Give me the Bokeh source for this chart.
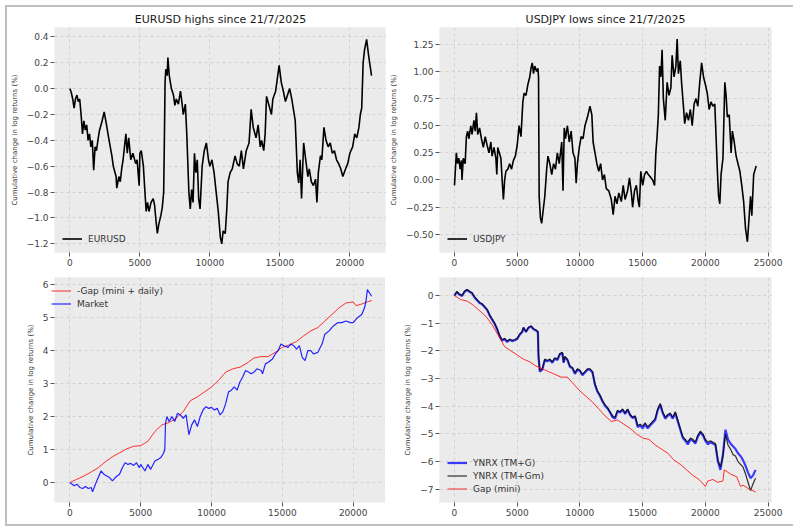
from bokeh.plotting import figure
from bokeh.models import Range1d, FixedTicker, CustomJSTickFormatter
from bokeh.layouts import gridplot, column
from bokeh.embed import file_html
from bokeh.resources import INLINE

# EURUSD highs (top left)
eur_x = [0, 100, 200, 300, 400, 500, 600, 700, 800, 900, 1000, 1100, 1200, 1300, 1400,
         1500, 1600, 1700, 1800, 1900, 2000, 2100, 2300, 2450, 2600, 2800, 3000, 3100,
         3300, 3350, 3500, 3600, 3700, 3800, 3900, 4000, 4100, 4200, 4350, 4500, 4700,
         4800, 4950, 5000, 5100, 5250, 5350, 5450, 5550, 5650, 5800, 5950, 6050, 6150,
         6250, 6350, 6500, 6600, 6700, 6750, 6800, 6850, 6950, 7000, 7100, 7250, 7400,
         7500, 7600, 7750, 7900, 8000, 8100, 8250, 8350, 8500, 8600, 8700, 8800, 8900,
         9000, 9100, 9200, 9300, 9450, 9600, 9750, 9900, 10000, 10150, 10300, 10450,
         10600, 10750, 10850, 10950, 11100, 11200, 11300, 11450, 11600, 11800, 11950,
         12100, 12250, 12400, 12600, 12800, 12950, 13100, 13300, 13450, 13600, 13700,
         13850, 13950, 14050, 14200, 14400, 14500, 14700, 14850, 14950, 15100, 15250,
         15400, 15550, 15700, 15850, 16000, 16100, 16250, 16350, 16450, 16550, 16700,
         16850, 17000, 17100, 17250, 17400, 17550, 17650, 17750, 17900, 18000, 18150,
         18300, 18450, 18600, 18750, 18900, 19050, 19200, 19350, 19500, 19700, 19850,
         20000, 20200, 20350, 20500, 20650, 20750, 20850, 20950, 21050, 21200, 21350,
         21550]
eur_y = [0.0, -0.03, -0.08, -0.15, -0.08, -0.05, -0.10, -0.08, -0.20, -0.35, -0.25,
         -0.32, -0.28, -0.40, -0.35, -0.45, -0.40, -0.63, -0.45, -0.48, -0.40, -0.33,
         -0.25, -0.18, -0.27, -0.40, -0.52, -0.60, -0.68, -0.77, -0.68, -0.72, -0.62,
         -0.55, -0.45, -0.35, -0.50, -0.38, -0.55, -0.50, -0.58, -0.55, -0.75, -0.50,
         -0.48, -0.60, -0.78, -0.95, -0.88, -0.95, -0.88, -0.85, -0.90, -1.02, -1.12,
         -1.05, -0.98, -0.92, -0.80, -0.40, 0.05, 0.15, 0.10, 0.24, 0.10, 0.00, -0.05,
         -0.13, -0.08, -0.12, -0.02, -0.10, -0.20, -0.12, -0.35, -0.80, -0.93, -0.78,
         -0.88, -0.50, -0.65, -0.55, -0.85, -0.93, -0.60, -0.48, -0.42, -0.55, -0.60,
         -0.55, -0.65, -0.80, -0.95, -1.15, -1.20, -1.10, -1.12, -0.95, -0.72, -0.65,
         -0.62, -0.52, -0.58, -0.60, -0.48, -0.62, -0.48, -0.42, -0.16, -0.30, -0.38,
         -0.28, -0.45, -0.40, -0.48, -0.35, -0.06, -0.12, -0.20, -0.08, -0.02, 0.10,
         0.18, 0.05, -0.02, -0.10, -0.05, 0.00, -0.08, -0.18, -0.25, -0.65, -0.73,
         -0.55, -0.85, -0.42, -0.55, -0.68, -0.62, -0.72, -0.75, -0.70, -0.88, -0.65,
         -0.52, -0.55, -0.30, -0.40, -0.45, -0.42, -0.50, -0.48, -0.55, -0.58, -0.62,
         -0.68, -0.62, -0.58, -0.50, -0.45, -0.35, -0.38, -0.30, -0.20, -0.15, 0.20,
         0.30, 0.38, 0.25, 0.10]

# USDJPY lows (top right)
jpy_x = [0, 50, 150, 250, 350, 450, 550, 600, 700, 850, 950, 1050, 1150, 1300, 1400,
         1550, 1650, 1750, 1850, 2000, 2150, 2300, 2450, 2600, 2750, 2900, 3000, 3150,
         3300, 3375, 3450, 3700, 3800, 3900, 4000, 4100, 4250, 4400, 4550, 4700, 4850,
         5000, 5150, 5300, 5450, 5550, 5700, 5850, 6000, 6100, 6200, 6300, 6400, 6550,
         6650, 6700, 6750, 6850, 6950, 7050, 7200, 7350, 7450, 7600, 7750, 7900, 8050,
         8200, 8350, 8550, 8650, 8750, 8850, 9000, 9150, 9300, 9450, 9600, 9700, 9800,
         9950, 10100, 10250, 10400, 10600, 10800, 10950, 11050, 11200, 11350, 11500,
         11650, 11800, 11950, 12100, 12300, 12500, 12650, 12800, 12950, 13100, 13300,
         13450, 13600, 13800, 13950, 14100, 14200, 14350, 14500, 14650, 14740, 14850,
         15000, 15150, 15300, 15450, 15600, 15800, 15950, 16050, 16150, 16250, 16350,
         16450, 16550, 16650, 16800, 16950, 17100, 17250, 17350, 17500, 17650, 17750,
         17850, 18000, 18100, 18250, 18350, 18500, 18650, 18800, 18950, 19100, 19250,
         19400, 19550, 19700, 19850, 20000, 20150, 20300, 20450, 20600, 20750, 20850,
         20950, 21050, 21150, 21250, 21400, 21550, 21650, 21750, 21900, 22050, 22150,
         22300, 22450, 22600, 22750, 22900, 23050, 23200, 23350, 23450, 23600, 23700,
         23850, 24050]
jpy_y = [-0.05, 0.05, 0.25, 0.15, 0.20, 0.10, 0.18, 0.00, 0.20, 0.15, 0.40, 0.45,
         0.38, 0.50, 0.42, 0.55, 0.45, 0.62, 0.42, 0.48, 0.38, 0.30, 0.40, 0.32, 0.25,
         0.35, 0.22, 0.30, 0.20, 0.05, 0.30, 0.20, 0.00, -0.18, 0.00, 0.08, 0.10, 0.15,
         0.10, 0.18, 0.22, 0.32, 0.50, 0.40, 0.72, 0.80, 0.78, 0.88, 0.95, 1.03, 1.08,
         0.98, 1.05, 1.00, 1.03, 0.95, -0.15, -0.35, -0.40, -0.30, -0.15, 0.10, 0.22,
         0.15, 0.05, 0.15, 0.10, 0.25, 0.15, 0.35, -0.10, 0.48, 0.38, 0.50, 0.35, 0.45,
         0.25, 0.20, -0.03, 0.15, 0.30, 0.40, 0.38, 0.50, 0.58, 0.68, 0.60, 0.35, 0.25,
         0.15, 0.08, 0.15, 0.00, 0.05, -0.08, -0.10, -0.18, -0.32, -0.15, -0.22, -0.12,
         -0.20, -0.05, -0.18, -0.10, 0.02, -0.12, -0.25, -0.10, -0.05, -0.20, -0.25,
         0.08, -0.05, 0.05, 0.08, 0.05, 0.03, 0.00, -0.05, 0.25, 0.40, 0.60, 1.05, 0.95,
         1.20, 0.75, 0.55, 0.90, 0.78, 0.85, 1.15, 0.95, 1.05, 1.30, 0.98, 1.10, 0.90,
         0.68, 0.52, 0.62, 0.55, 0.65, 0.50, 0.70, 0.75, 0.68, 0.90, 1.08, 0.95, 0.88,
         0.80, 0.65, 0.72, 0.68, 0.70, 0.40, 0.10, -0.15, -0.22, 0.05, 0.20, 0.90, 0.78,
         0.58, 0.60, 0.25, 0.45, 0.35, 0.22, 0.15, 0.08, -0.05, -0.20, -0.45, -0.57,
         -0.40, -0.15, -0.33, 0.05, 0.13]

# -Gap (mini + daily) vs Market (bottom left)
gap_x = [0, 500, 1000, 1500, 2000, 2500, 3000, 3500, 4000, 4500, 5000, 5500, 6000,
         6500, 7000, 7500, 8000, 8500, 9000, 9500, 10000, 10500, 11000, 11500, 12000,
         12500, 13000, 13500, 14000, 14500, 15000, 15500, 16000, 16500, 17000, 17500,
         18000, 18500, 19000, 19500, 20000, 20200, 20500, 21000, 21300]
gap_y = [0.0, 0.10, 0.20, 0.32, 0.45, 0.63, 0.78, 0.90, 1.02, 1.10, 1.12, 1.25, 1.55,
         1.75, 1.82, 1.95, 2.15, 2.48, 2.60, 2.75, 2.90, 3.10, 3.35, 3.45, 3.50, 3.62,
         3.78, 3.82, 3.82, 3.95, 4.10, 4.18, 4.28, 4.45, 4.60, 4.70, 4.90, 5.10, 5.30,
         5.45, 5.48, 5.37, 5.40, 5.48, 5.52]
mkt_x = [0, 300, 500, 700, 900, 1100, 1300, 1500, 1600, 1800, 2000, 2200, 2400, 2600,
         2800, 3000, 3200, 3500, 3700, 3900, 4100, 4300, 4500, 4700, 4900, 5000, 5300,
         5500, 5700, 6000, 6200, 6400, 6600, 6700, 6750, 6850, 7000, 7200, 7400, 7600,
         7800, 8000, 8200, 8400, 8600, 8800, 9000, 9200, 9400, 9600, 9800, 10000, 10200,
         10400, 10600, 10800, 11000, 11200, 11400, 11600, 11800, 12000, 12200, 12400,
         12600, 12800, 13000, 13200, 13500, 13600, 13800, 14000, 14300, 14500, 14700,
         14900, 15100, 15400, 15600, 15800, 16000, 16200, 16400, 16600, 16800, 17000,
         17200, 17500, 17800, 18000, 18300, 18600, 18900, 19200, 19500, 19800, 20000,
         20300, 20600, 20800, 20900, 21000, 21150, 21300]
mkt_y = [0.0, -0.10, -0.05, -0.15, -0.18, -0.12, -0.18, -0.15, -0.28, -0.05, 0.15,
         0.35, 0.25, 0.20, 0.15, 0.05, 0.15, 0.25, 0.45, 0.60, 0.55, 0.58, 0.52, 0.60,
         0.45, 0.55, 0.35, 0.55, 0.40, 0.65, 0.70, 0.75, 0.88, 1.00, 1.80, 2.00, 1.85,
         2.00, 1.85, 2.10, 2.05, 1.95, 2.05, 1.45, 1.75, 1.90, 1.70, 2.00, 2.20, 2.30,
         2.25, 2.28, 2.20, 2.25, 2.05, 2.15, 2.40, 2.75, 2.80, 2.90, 2.80, 3.05, 3.20,
         3.40, 3.35, 3.30, 3.35, 3.45, 3.40, 3.30, 3.60, 3.65, 3.75, 3.90, 4.00, 4.20,
         4.15, 4.10, 4.20, 4.15, 4.05, 4.15, 3.80, 3.70, 4.00, 4.00, 3.90, 3.95, 4.20,
         4.50, 4.60, 4.75, 4.85, 4.85, 4.90, 4.85, 4.85, 5.00, 5.10, 5.30, 5.50, 5.85,
         5.75, 5.65]

# YNRX vs Gap (mini) (bottom right)
ynrx_x = [0, 200, 400, 600, 800, 1000, 1200, 1400, 1600, 1800, 2000, 2200, 2400, 2600,
          2800, 3000, 3200, 3400, 3600, 3800, 4000, 4200, 4400, 4600, 4800, 5000, 5200,
          5400, 5500, 5700, 5900, 6100, 6300, 6500, 6650, 6700, 6800, 7000, 7200, 7400,
          7600, 7800, 8000, 8200, 8400, 8600, 8700, 8800, 9000, 9200, 9400, 9600, 9800,
          10000, 10200, 10400, 10600, 10800, 11000, 11200, 11400, 11600, 11800, 12000,
          12200, 12400, 12600, 12800, 13000, 13200, 13400, 13600, 13800, 14000, 14200,
          14400, 14600, 14800, 15000, 15200, 15400, 15600, 15800, 16000, 16200, 16400,
          16600, 16800, 17000, 17200, 17400, 17600, 17800, 18000, 18200, 18400, 18600,
          18800, 19000, 19200, 19400, 19600, 19800, 20000, 20200, 20400, 20600, 20800,
          21000, 21200, 21400, 21600, 21800, 22000, 22200, 22400, 22600, 22800, 23000,
          23200, 23400, 23600, 23800, 24000]
tmg_y = [0.0, 0.12, 0.03, -0.02, 0.13, 0.20, 0.13, 0.08, -0.07, -0.17, -0.27, -0.32,
         -0.42, -0.52, -0.72, -0.87, -1.02, -1.22, -1.47, -1.63, -1.58, -1.68, -1.60,
         -1.65, -1.62, -1.57, -1.42, -1.32, -1.17, -1.32, -1.17, -1.12, -1.22, -1.27,
         -1.32, -2.22, -2.75, -2.68, -2.33, -2.38, -2.33, -2.43, -2.28, -2.33, -2.13,
         -2.08, -2.43, -2.23, -2.33, -2.58, -2.63, -2.83, -2.68, -2.73, -2.88, -2.78,
         -2.68, -2.68, -2.78, -3.23, -3.48, -3.63, -3.83, -3.98, -4.08, -4.23, -4.40,
         -4.45, -4.18, -4.23, -4.13, -4.28, -4.13, -4.33, -4.43, -4.38, -4.75, -4.70,
         -4.80, -4.65, -4.80, -4.70, -4.60, -4.50, -4.15, -3.95, -4.25, -4.45, -4.35,
         -4.30, -4.45, -4.25, -4.55, -4.85, -5.15, -5.25, -5.38, -5.20, -5.25, -5.35,
         -5.10, -4.95, -5.05, -5.25, -5.38, -5.30, -5.35, -5.40, -6.00, -6.30, -5.75,
         -4.85, -5.20, -5.35, -5.45, -5.55, -5.70, -5.80, -5.95, -6.15, -6.40, -6.60,
         -6.50, -6.30]
tmgm_y = [0.0, 0.15, 0.05, 0.00, 0.15, 0.22, 0.15, 0.10, -0.05, -0.15, -0.25, -0.30,
          -0.40, -0.50, -0.70, -0.85, -1.00, -1.20, -1.45, -1.60, -1.55, -1.65, -1.58,
          -1.62, -1.60, -1.55, -1.40, -1.30, -1.15, -1.30, -1.15, -1.10, -1.20, -1.25,
          -1.30, -2.20, -2.70, -2.65, -2.30, -2.35, -2.30, -2.40, -2.25, -2.30, -2.10,
          -2.05, -2.40, -2.20, -2.30, -2.55, -2.60, -2.80, -2.65, -2.70, -2.85, -2.75,
          -2.65, -2.65, -2.75, -3.20, -3.45, -3.60, -3.80, -3.95, -4.05, -4.20, -4.35,
          -4.40, -4.15, -4.20, -4.10, -4.25, -4.10, -4.30, -4.40, -4.35, -4.70, -4.65,
          -4.72, -4.60, -4.75, -4.65, -4.55, -4.45, -4.10, -3.90, -4.20, -4.40, -4.30,
          -4.25, -4.40, -4.20, -4.50, -4.80, -5.10, -5.20, -5.30, -5.15, -5.20, -5.30,
          -5.05, -4.90, -5.00, -5.20, -5.30, -5.25, -5.30, -5.35, -5.95, -6.20, -5.80,
          -5.00, -5.40, -5.55, -5.75, -5.80, -6.00, -6.10, -6.20, -6.45, -6.75, -7.05,
          -6.80, -6.60]
gapm_x = [0, 500, 1000, 1500, 2000, 2500, 3000, 3500, 4000, 4500, 5000, 5500, 6000,
          6500, 7000, 7500, 8000, 8500, 9000, 9500, 10000, 10500, 11000, 11500, 12000,
          12500, 13000, 13500, 14000, 14500, 15000, 15500, 16000, 16500, 17000, 17500,
          18000, 18500, 19000, 19500, 20000, 20200, 20600, 21000, 21400, 21500, 22000,
          22500, 22800, 23000, 23500, 24000]
gapm_y = [0.0, -0.15, -0.20, -0.35, -0.55, -0.75, -1.05, -1.45, -1.85, -2.00, -2.15,
          -2.30, -2.40, -2.55, -2.65, -2.75, -2.85, -2.95, -2.95, -3.20, -3.45, -3.65,
          -3.85, -4.10, -4.35, -4.55, -4.50, -4.65, -4.80, -5.00, -5.15, -5.20, -5.40,
          -5.55, -5.70, -5.95, -6.10, -6.30, -6.50, -6.65, -6.90, -6.70, -6.65, -6.75,
          -6.70, -6.30, -6.45, -6.55, -6.90, -6.85, -7.00, -7.10]

x_ticks = [0, 5000, 10000, 15000, 20000]
x_ticks_long = [0, 5000, 10000, 15000, 20000, 25000]
eur_ticks = [-1.2, -1.0, -0.8, -0.6, -0.4, -0.2, 0.0, 0.2, 0.4]
jpy_ticks = [-0.5, -0.25, 0.0, 0.25, 0.5, 0.75, 1.0, 1.25]
mkt_ticks = [0, 1, 2, 3, 4, 5, 6]
ynrx_ticks = [-7, -6, -5, -4, -3, -2, -1, 0]

YLABEL = "Cumulative change in log returns (%)"
FONT = "DejaVu Sans"


def fmt(digits):
    return CustomJSTickFormatter(
        code="return tick.toFixed(%d).replace('-', '\\u2212');" % digits)


def make_fig(title, xr, yr, xt, yt, digits, borders):
    left, right, top, bottom = borders
    kw = dict(x_range=Range1d(*xr), y_range=Range1d(*yr),
              frame_width=332, frame_height=225, output_backend="svg",
              toolbar_location=None, min_border_left=left, min_border_right=right,
              min_border_top=top, min_border_bottom=bottom)
    if title:
        kw['title'] = title
    p = figure(**kw)
    if title:
        p.title.align = 'center'
        p.title.text_font = FONT
        p.title.text_font_style = 'normal'
        p.title.text_font_size = '11px'
        p.title.text_color = '#1a1a1a'
        p.title.standoff = 4
    p.background_fill_color = '#ebebeb'
    p.border_fill_color = 'white'
    p.outline_line_color = '#f2f2f2'
    p.grid.grid_line_color = '#cacaca'
    p.grid.grid_line_dash = '3 3'
    p.grid.grid_line_width = 0.8
    p.xaxis.ticker = FixedTicker(ticks=xt)
    p.yaxis.ticker = FixedTicker(ticks=yt)
    p.xaxis.formatter = fmt(0)
    p.yaxis.formatter = fmt(digits)
    for ax in [p.xaxis, p.yaxis]:
        ax.axis_line_color = None
        ax.major_tick_line_color = '#555555'
        ax.major_tick_out = 4
        ax.major_tick_in = 0
        ax.minor_tick_line_color = None
        ax.major_label_text_font = FONT
        ax.major_label_text_font_size = '9px'
        ax.major_label_text_color = '#444444'
        ax.major_label_standoff = 2
    p.yaxis.axis_label = YLABEL
    p.yaxis.axis_label_text_font = FONT
    p.yaxis.axis_label_text_font_size = '7px'
    p.yaxis.axis_label_text_font_style = 'normal'
    p.yaxis.axis_label_text_color = '#333333'
    p.yaxis.axis_label_standoff = 5
    return p


def style_legend(p, loc):
    p.legend.location = loc
    p.legend.background_fill_alpha = 0
    p.legend.border_line_alpha = 0
    p.legend.label_text_font = FONT
    p.legend.label_text_font_size = '9px'
    p.legend.label_text_color = '#333333'
    p.legend.glyph_width = 20
    p.legend.glyph_height = 11
    p.legend.label_height = 11
    p.legend.label_standoff = 6
    p.legend.spacing = 2
    p.legend.padding = 4
    p.legend.margin = 4


p1 = make_fig("EURUSD highs since 21/7/2025", (-1100, 22620), (-1.267, 0.4725),
              x_ticks, eur_ticks, 1, (46, 0, 20, 21))
p1.line(eur_x, eur_y, color='black', line_width=1.6, legend_label='EURUSD')
style_legend(p1, 'bottom_left')

p2 = make_fig("USDJPY lows since 21/7/2025", (-1194, 25270), (-0.669, 1.406),
              x_ticks_long, jpy_ticks, 2, (47, 23, 20, 21))
p2.line(jpy_x, jpy_y, color='black', line_width=1.6, legend_label='USDJPY')
style_legend(p2, 'bottom_left')

p3 = make_fig(None, (-1088, 22350), (-0.606, 6.22), x_ticks, mkt_ticks, 0,
              (46, 0, 4, 22))
p3.line(gap_x, gap_y, color='red', line_width=1, alpha=0.8,
        legend_label='-Gap (mini + daily)')
p3.line(mkt_x, mkt_y, color='blue', line_width=1.2, alpha=0.85, legend_label='Market')
style_legend(p3, 'top_left')

p4 = make_fig(None, (-1194, 25270), (-7.48, 0.65), x_ticks_long, ynrx_ticks, 0,
              (47, 23, 4, 22))
p4.line(ynrx_x, tmg_y, color='blue', line_width=2.2, alpha=0.75,
        legend_label='YNRX (TM+G)')
p4.line(ynrx_x, tmgm_y, color='black', line_width=1.2, alpha=0.8,
        legend_label='YNRX (TM+Gm)')
p4.line(gapm_x, gapm_y, color='red', line_width=1, alpha=0.8, legend_label='Gap (mini)')
style_legend(p4, 'bottom_left')

grid = gridplot([[p1, p2], [p3, p4]], toolbar_location=None)
page = column(grid, styles={'border': '2px solid #c0c0c0',
                            'margin': '5px 0 0 5px'})

open("out.html", "w").write(file_html(page, INLINE))
